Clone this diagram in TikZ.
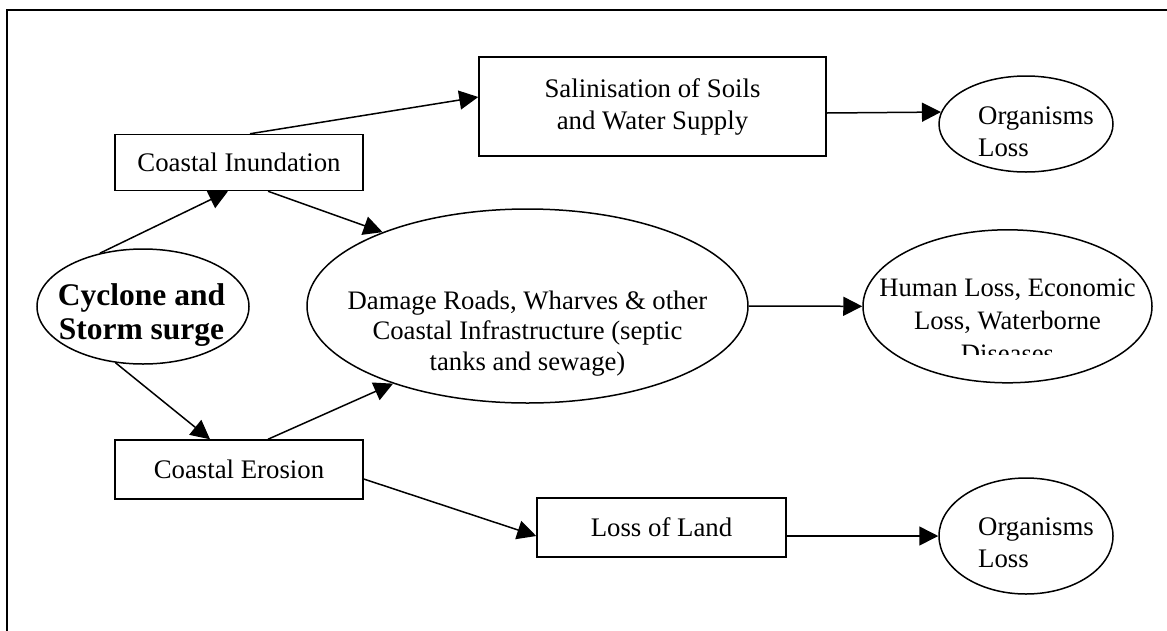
\documentclass[tikz,border=0pt]{standalone}
\usepackage{fontspec}
\setmainfont{Liberation Serif}
\usetikzlibrary{shapes.geometric,arrows.meta}
\newcommand\txtsize{\fontsize{26.8pt}{32pt}\selectfont}
\begin{document}
\begin{tikzpicture}[x=1pt,y=-1pt,
  box/.style={draw, rectangle, inner sep=0pt, line width=1.5pt, align=center, font=\txtsize},
  oval/.style={draw, ellipse, inner sep=0pt, line width=1.5pt},
  lbl/.style={inner sep=0pt, align=center, font=\txtsize},
  arr/.style={-{Triangle[length=19pt,width=19pt]}, line width=1.5pt},
  frameline/.style={line width=1.5pt}]
\useasboundingbox (0,0) rectangle (1167,630);
\draw[frameline] (7,640) -- (7,10) -- (1175,10);

% boxes
\node[box, minimum width=248pt, minimum height=56pt] (inund) at (239,162.5) {Coastal Inundation};
\node[box, minimum width=248pt, minimum height=59pt] (eros) at (239,469.5) {Coastal Erosion};
\node[box, minimum width=347pt, minimum height=99pt] (sal) at (652.5,106.5) {Salinisation of Soils\\and Water Supply};
\node[box, minimum width=249pt, minimum height=59pt] (land) at (661.5,527.5) {Loss of Land};

% ellipses
\node[oval, minimum width=212pt, minimum height=115pt] (cyc) at (143,306.5) {};
\node[oval, minimum width=441pt, minimum height=194pt] (damage) at (527.5,306) {};
\node[oval, minimum width=289pt, minimum height=153pt] (human) at (1007.5,306.3) {};
\node[oval, minimum width=174pt, minimum height=96pt] (orgtop) at (1026,124) {};
\node[oval, minimum width=174pt, minimum height=116pt] (orgbot) at (1026,536) {};

% ellipse texts
\node[lbl, font=\bfseries\fontsize{31.5pt}{34pt}\selectfont] (cyctxt) at (141.5,314.6) {Cyclone and\\Storm surge};
\node[lbl, font=\fontsize{26.7pt}{30.5pt}\selectfont] (damtxt) at (527.5,333.3) {Damage Roads, Wharves \& other\\Coastal Infrastructure (septic\\tanks and sewage)};
\node[lbl, align=left] (orgtoptxt) at (1036,132.1) {Organisms\\Loss};
\node[lbl, align=left] (orgbottxt) at (1036,543.1) {Organisms\\Loss};
\begin{scope}
  \clip (850,200) rectangle (1165,354.5);
  \node[lbl, font=\fontsize{26.6pt}{33pt}\selectfont] (humtxt) at (1007.5,321) {Human Loss, Economic\\Loss, Waterborne\\Diseases};
\end{scope}

% connectors
\draw[arr] (cyc.129) -- ([xshift=-11pt]inund.south);
\draw[arr] ([xshift=11pt]inund.north) -- ([yshift=9.5pt]sal.west);
\draw[arr] ([xshift=29pt]inund.south) -- (damage.153.4);
\draw[arr] (cyc.244) -- ([xshift=-29pt]eros.north);
\draw[arr] ([xshift=29pt]eros.north) -- (damage.210.2);
\draw[arr] ([yshift=-9.5pt]eros.east) -- ([yshift=-8.5pt]land.west);
\draw[arr] ([yshift=-6.5pt]sal.east) -- (orgtop.172.6);
\draw[arr] (damage.east) -- (human.west);
\draw[arr] (land.east |- orgbot.west) -- (orgbot.west);
\end{tikzpicture}
\end{document}
